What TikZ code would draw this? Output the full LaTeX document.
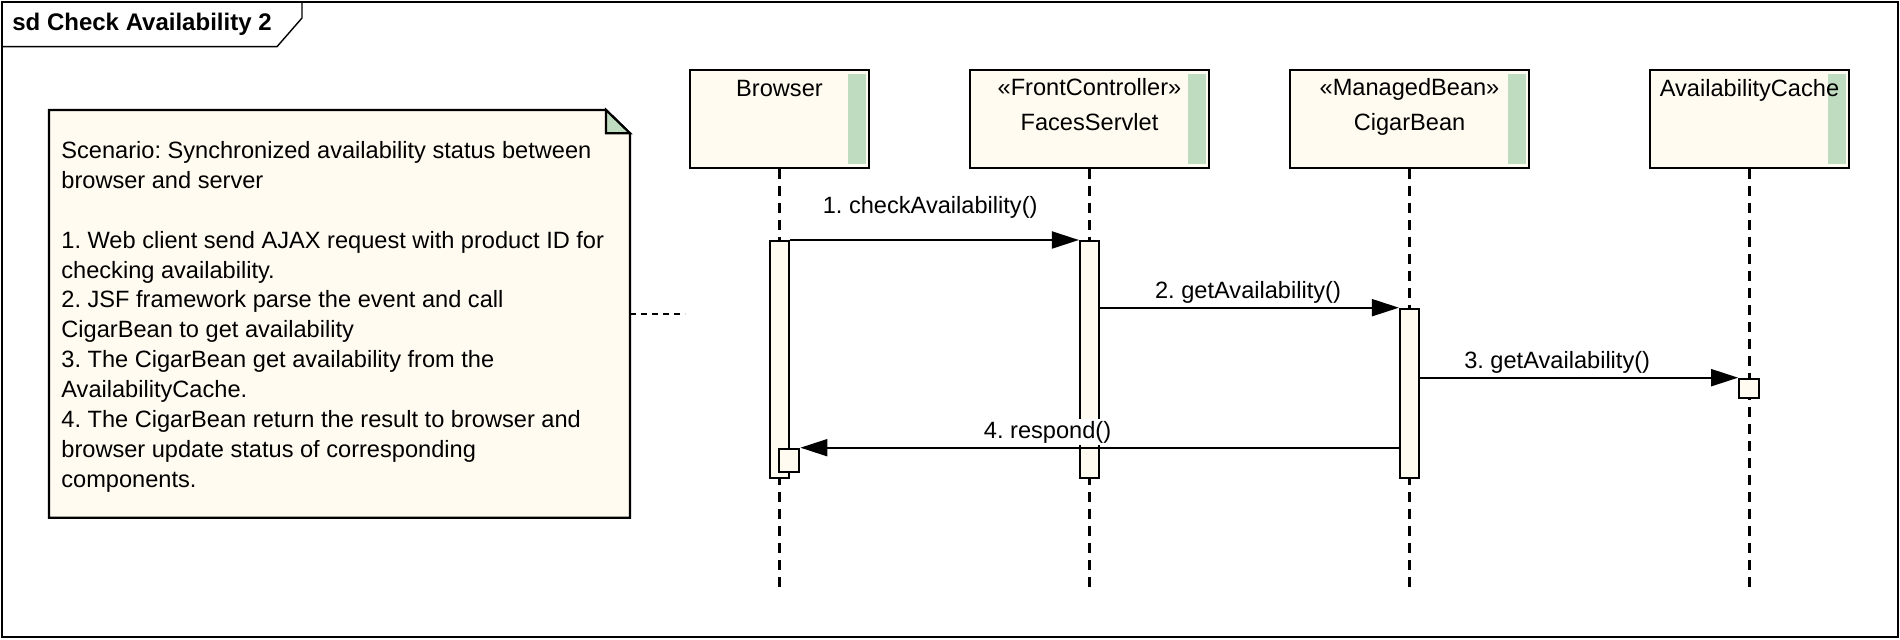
\documentclass[tikz,border=0pt]{standalone}
\usepackage{fontspec}
\setmainfont{Liberation Sans}
\usetikzlibrary{arrows.meta,calc}
\definecolor{boxfill}{RGB}{255,251,240}
\definecolor{stripgreen}{RGB}{192,220,192}
\frenchspacing

\begin{document}
\begin{tikzpicture}[x=0.5pt,y=-0.5pt,
		every node/.style={font=\fontsize{11.8}{14}\selectfont, inner sep=0pt},
		head/.style={draw, line width=1.1pt, fill=boxfill, minimum height=49pt},
		act/.style={draw, line width=1.1pt, fill=boxfill, minimum width=9.5pt, anchor=north},
		lifeline/.style={line width=1.1pt, dash pattern=on 5pt off 3.5pt},
		msg/.style={line width=1pt, -{Triangle[length=13.5pt,width=8.5pt]}},
		msglbl/.style={anchor=base},
		txt/.style={anchor=base}]
		
		\useasboundingbox (0,0) rectangle (1900,640);
		
		% Frame
		\draw[line width=0.7pt] (2,2) rectangle (1898,637);
		\draw[line width=0.7pt] (2,46.7) -- (277,46.7) -- (302,18) -- (302,2);
		\node[anchor=base west, font=\fontsize{12}{14}\selectfont\bfseries] (title) at (12,31) {sd Check Availability 2};
		
		% Note
		\draw[line width=1.1pt, fill=boxfill] (49,110) -- (606,110) -- (630,133.3) -- (630,517.7) -- (49,517.7) -- cycle;
		\filldraw[line width=1.1pt, fill=stripgreen] (606,110) -- (606,133.3) -- (630,133.3) -- cycle;
		\foreach \t [count=\i from 0] in {
			Scenario: Synchronized availability status between,
			browser and server,
			{},
			1. Web client send AJAX request with product ID for,
			checking availability.,
			2. JSF framework parse the event and call,
			CigarBean to get availability,
			3. The CigarBean get availability from the,
			AvailabilityCache.,
			4. The CigarBean return the result to browser and,
			browser update status of corresponding,
			components.} {
			\node[anchor=base west] (note\i) at (61,{158.5+29.9*\i}) {\t};
		}
		\coordinate (noteR) at (630,314);
		\coordinate (noteEnd) at (685,314);
		\draw[line width=0.7pt, dash pattern=on 3pt off 2.5pt] (noteR) -- (noteEnd);
		
		% Lifeline heads
		\node[head, minimum width=89.5pt] (browser) at (779.5,119) {};
		\node[head, minimum width=119.5pt] (faces) at (1089.5,119) {};
		\node[head, minimum width=119.5pt] (cigar) at (1409.5,119) {};
		\node[head, minimum width=99.5pt] (cache) at (1749.5,119) {};
		\foreach \n in {browser,faces,cigar,cache} {
			\fill[stripgreen] ($(\n.north east)+(-4,5)$) rectangle ($(\n.south east)+(-22,-5)$);
		}
		\node[txt] (browserT) at ($(browser.north)+(0,27.5)$) {Browser};
		\node[txt] (facesS) at ($(faces.north)+(0,27)$) {«FrontController»};
		\node[txt] (facesT) at ($(faces.north)+(0,62)$) {FacesServlet};
		\node[txt] (cigarS) at ($(cigar.north)+(0,27)$) {«ManagedBean»};
		\node[txt] (cigarT) at ($(cigar.north)+(0,62)$) {CigarBean};
		\node[txt] (cacheT) at ($(cache.north)+(0,28)$) {AvailabilityCache};
		
		% Lifelines
		\foreach \n in {browser,faces,cigar,cache} {
			\draw[lifeline] (\n.south) -- ++(0,421);
		}
		
		% Activations
		\node[act, minimum height=118.35pt] (actB) at (779.5,240) {};
		\node[act, minimum height=118.35pt] (actF) at (1089.5,240) {};
		\node[act, minimum height=84.5pt] (actC) at (1409.5,307.7) {};
		\node[act, minimum height=9.5pt, minimum width=10pt] (actA) at (1749.2,377.7) {};
		\node[act, minimum height=11.5pt, minimum width=10pt] (actB2) at (789.3,447.7) {};
		
		% Messages
		\draw[msg] (actB.north east) -- node[msglbl, yshift=13pt, pos=0.485] (m1) {1. checkAvailability()} (actF.north west);
		\draw[msg] (actF.east |- actC.north) -- node[msglbl, yshift=4.8pt, pos=0.495] (m2) {2. getAvailability()} (actC.north west);
		\draw[msg] (actC.east |- actA.north) -- node[msglbl, yshift=4.5pt, pos=0.431] (m3) {3. getAvailability()} (actA.north west);
		\draw[msg] (actC.west |- actB2.north) -- node[msglbl, yshift=4.8pt, pos=0.587, fill=white, inner sep=1pt] (m4) {4. respond()} (actB2.north east);
		
	\end{tikzpicture}
\end{document}
